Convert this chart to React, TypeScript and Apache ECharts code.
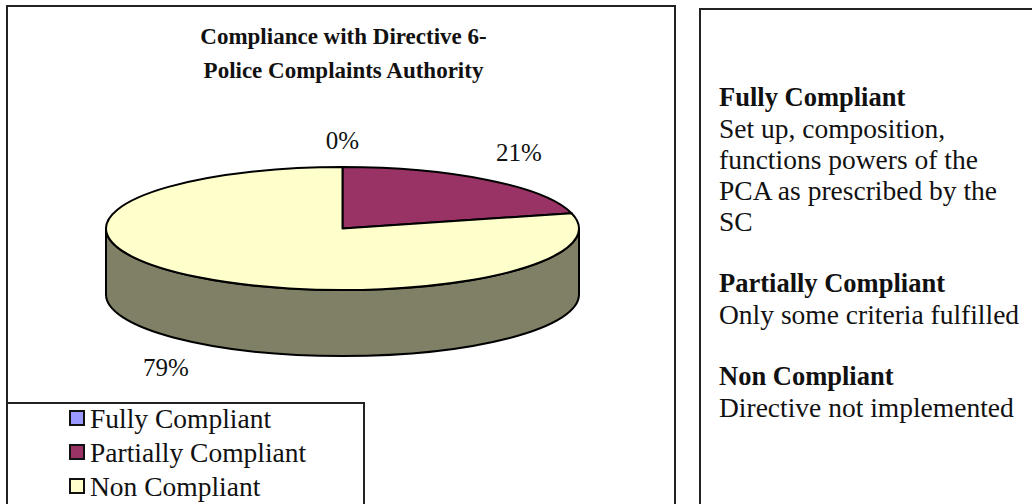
import React, { useEffect, useRef } from "react";
import * as echarts from "echarts";

const categories = ["Fully Compliant", "Partially Compliant", "Non Compliant"];
const percentValues = [0, 21, 79];
const sliceColors = ["#9999FF", "#993366", "#FFFFCC"];
const sideColors = ["#4D4D80", "#4D1A33", "#808066"];
const titleLines = ["Compliance with Directive 6-", "Police Complaints Authority"];
const notes: [string, boolean, number][] = [
  ["Fully Compliant", true, 97],
  ["Set up, composition,", false, 128],
  ["functions powers of the", false, 159],
  ["PCA as prescribed by the", false, 190],
  ["SC", false, 221],
  ["Partially Compliant", true, 283],
  ["Only some criteria fulfilled", false, 314],
  ["Non Compliant", true, 376],
  ["Directive not implemented", false, 407],
];

const CX = 342.5, CY = 228.5, RX = 236.5, RY = 61.5, DEPTH = 66;
const LABEL_RX = 288, LABEL_RY = 92;
const FONT = "'Liberation Serif', serif";
const total = percentValues.reduce((a, b) => a + b, 0);

const px = (a: number) => CX + RX * Math.sin(a);
const py = (a: number) => CY - RY * Math.cos(a);

function renderSlice(index: number) {
  const before = percentValues.slice(0, index).reduce((a, b) => a + b, 0);
  const a0 = (before / total) * Math.PI * 2;
  const a1 = ((before + percentValues[index]) / total) * Math.PI * 2;
  const children: any[] = [];
  const lo = Math.max(a0, Math.PI / 2);
  const hi = Math.min(a1, (Math.PI * 3) / 2);
  const lineStyle = { stroke: "#000", lineWidth: 2, lineJoin: "round" };
  if (hi > lo) {
    const large = hi - lo > Math.PI ? 1 : 0;
    const d =
      `M${px(lo)} ${py(lo)}A${RX} ${RY} 0 ${large} 1 ${px(hi)} ${py(hi)}` +
      `L${px(hi)} ${py(hi) + DEPTH}A${RX} ${RY} 0 ${large} 0 ${px(lo)} ${py(lo) + DEPTH}Z`;
    children.push({
      type: "path",
      shape: { pathData: d },
      style: { fill: sideColors[index], ...lineStyle },
    });
  }
  if (a1 > a0) {
    const large = a1 - a0 > Math.PI ? 1 : 0;
    const d = `M${CX} ${CY}L${px(a0)} ${py(a0)}A${RX} ${RY} 0 ${large} 1 ${px(a1)} ${py(a1)}Z`;
    children.push({
      type: "path",
      shape: { pathData: d },
      style: { fill: sliceColors[index], ...lineStyle },
    });
  }
  const mid = (a0 + a1) / 2;
  const cos = Math.cos(mid);
  children.push({
    type: "text",
    z2: 10,
    style: {
      x: CX + LABEL_RX * Math.sin(mid),
      y: CY - LABEL_RY * cos + (cos < 0 ? DEPTH : 0) + (index === 0 ? 4 : index === 1 ? -3 : 0),
      text: percentValues[index] + "%",
      fill: "#111",
      font: `25px ${FONT}`,
      align: "center",
      verticalAlign: "middle",
    },
  });
  return { type: "group", children };
}

export default function App() {
  const ref = useRef<HTMLDivElement>(null);
  useEffect(() => {
    const chart = echarts.init(ref.current!, null, { renderer: "svg" });
    const frame = (x: number, y: number, w: number, h: number, z = 0) => ({
      type: "rect",
      z,
      silent: true,
      shape: { x, y, width: w, height: h },
      style: { fill: "#fff", stroke: "#222", lineWidth: 2 },
    });
    chart.setOption({
      animation: false,
      backgroundColor: "#fff",
      title: {
        text: titleLines.join("\n"),
        left: 338.5,
        top: 14,
        textAlign: "center",
        textStyle: { fontFamily: FONT, fontSize: 23, fontWeight: "bold", color: "#111", lineHeight: 34 },
        z: 20,
      },
      legend: {
        orient: "vertical",
        left: 64,
        top: 403,
        padding: [0, 0, 0, 5],
        itemGap: 4,
        itemWidth: 14,
        itemHeight: 14,
        icon: "rect",
        data: categories,
        itemStyle: { borderColor: "#111", borderWidth: 2 },
        textStyle: { fontFamily: FONT, fontSize: 27.5, color: "#111", lineHeight: 30, padding: [0, 0, 0, 1] },
        z: 20,
      },
      graphic: {
        elements: [
          frame(7, 6, 668, 520, -10),
          frame(700, 9, 360, 520, -10),
          frame(7, 403, 357, 120, -9),
          ...notes.map(([text, bold, y]) => ({
            type: "text",
            z: 5,
            style: {
              x: 719,
              y,
              text,
              fill: "#111",
              font: `${bold ? "bold 26.5px" : "27.5px"} ${FONT}`,
              verticalAlign: "middle",
            },
          })),
        ],
      },
      series: categories.map((name, i) => ({
        type: "custom",
        name,
        coordinateSystem: "none",
        silent: true,
        z: 3 + i,
        itemStyle: { color: sliceColors[i] },
        data: [percentValues[i]],
        renderItem: () => renderSlice(i),
      })),
    });
    return () => chart.dispose();
  }, []);
  return <div ref={ref} style={{ width: 1032, height: 504, position: "fixed", left: 0, top: 0 }} />;
}
